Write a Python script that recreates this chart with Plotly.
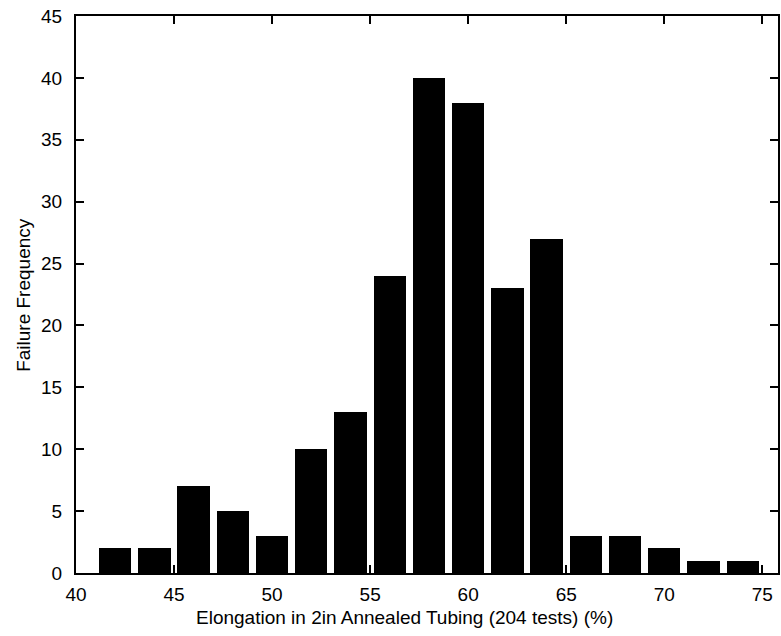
import plotly.graph_objects as go

# Histogram of elongation results: bin centres (%) and counts per bin
bin_centers = [42, 44, 46, 48, 50, 52, 54, 56, 58, 60, 62, 64, 66, 68, 70, 72, 74]
counts = [2, 2, 7, 5, 3, 10, 13, 24, 40, 38, 23, 27, 3, 3, 2, 1, 1]

x_ticks = [40, 45, 50, 55, 60, 65, 70, 75]
y_ticks = [0, 5, 10, 15, 20, 25, 30, 35, 40, 45]

FONT = "Liberation Sans, Arial, Helvetica, sans-serif"
FONT_SIZE = 19

fig = go.Figure(
    go.Bar(
        x=bin_centers,
        y=counts,
        width=1.65,
        marker=dict(color="black", line=dict(width=0)),
        showlegend=False,
    )
)

axis_common = dict(
    showgrid=False,
    zeroline=False,
    showline=True,
    linecolor="black",
    linewidth=2,
    mirror="ticks",
    ticks="inside",
    ticklen=8,
    tickwidth=2,
    tickcolor="black",
    tickfont=dict(family=FONT, size=FONT_SIZE, color="black"),
)

fig.update_xaxes(
    range=[40, 75.8],
    tickvals=x_ticks,
    ticklabelstandoff=3,
    **axis_common,
)
fig.update_yaxes(
    range=[0, 45],
    tickvals=y_ticks,
    ticklabelstandoff=8,
    **axis_common,
)

fig.add_annotation(
    text="Elongation in 2in Annealed Tubing (204 tests) (%)",
    xref="paper", yref="paper",
    x=(405 - 76) / (780 - 76), y=-0.058,
    xanchor="center", yanchor="top",
    showarrow=False,
    font=dict(family=FONT, size=FONT_SIZE, color="black"),
)
fig.add_annotation(
    text="Failure Frequency",
    xref="paper", yref="paper",
    x=-0.075, y=0.5,
    xanchor="center", yanchor="middle",
    textangle=-90,
    showarrow=False,
    font=dict(family=FONT, size=FONT_SIZE, color="black"),
)

fig.update_layout(
    width=781,
    height=636,
    margin=dict(l=76, r=1, t=16, b=63),
    paper_bgcolor="white",
    plot_bgcolor="white",
    bargap=0,
)

fig.write_html("out.html")
